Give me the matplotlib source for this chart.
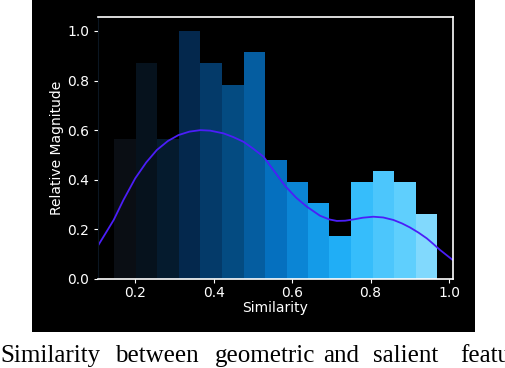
import numpy as np
import matplotlib
matplotlib.use("Agg")
from matplotlib import pyplot as plt
from matplotlib.patches import Rectangle

# histogram of similarity values (counts per bin, normalised by the max)
bin_edges = [0.147, 0.202, 0.256, 0.311, 0.366, 0.421, 0.476, 0.531,
             0.586, 0.640, 0.695, 0.750, 0.805, 0.860, 0.915, 0.970]
counts = [13, 20, 13, 23, 20, 18, 21, 11, 9, 7, 4, 9, 10, 9, 6]
bar_colors = ['#0a0e14', '#06121d', '#051b2e', '#04284d', '#043a69',
              '#044b81', '#055da0', '#0570bf', '#0b85d5', '#149be8',
              '#20aef6', '#36bdfb', '#4cc6fc', '#5fcffd', '#81d9fd']

# density curve
curve_x = [0.106, 0.125, 0.145, 0.17, 0.2, 0.228, 0.255, 0.283, 0.31, 0.338,
           0.366, 0.391, 0.425, 0.45, 0.476, 0.50, 0.527, 0.555, 0.582, 0.61,
           0.637, 0.671, 0.695, 0.714, 0.735, 0.756, 0.78, 0.807, 0.832, 0.858,
           0.88, 0.9, 0.922, 0.943, 0.96, 0.977, 0.993, 1.009]
curve_y = [0.137, 0.186, 0.238, 0.319, 0.406, 0.47, 0.52, 0.556, 0.58, 0.594,
           0.6, 0.598, 0.587, 0.572, 0.553, 0.526, 0.493, 0.433, 0.375, 0.328,
           0.292, 0.255, 0.24, 0.234, 0.235, 0.24, 0.247, 0.251, 0.248, 0.238,
           0.224, 0.208, 0.187, 0.164, 0.141, 0.117, 0.097, 0.077]

x_ticks = [0.2, 0.4, 0.6, 0.8, 1.0]
y_ticks = [0.0, 0.2, 0.4, 0.6, 0.8, 1.0]

caption_words = ['Similarity', 'between', 'geometric', 'and', 'salient', 'featu']
caption_x = [0, 115, 215, 323, 373, 460]

fig = plt.figure(figsize=(5.06, 3.68), dpi=100, facecolor='white')
bg = Rectangle((32 / 506, 1 - 332 / 368), 443 / 506, 332 / 368,
               transform=fig.transFigure, facecolor='black',
               edgecolor='none', zorder=-10)
fig.add_artist(bg)

ax = fig.add_axes([98 / 506, 1 - 279 / 368, 355 / 506, 262 / 368])
ax.set_zorder(5)
ax.set_facecolor('black')

rel = np.array(counts) / max(counts)
lefts = np.array(bin_edges[:-1])
widths = np.diff(bin_edges)
ax.bar(lefts, rel, width=widths, align='edge', color=bar_colors,
       edgecolor='none', linewidth=0)
ax.plot(curve_x, curve_y, color='#4b1ef8', lw=1.3)

ax.set_xlim(0.105, 1.01)
ax.set_ylim(0, 1.056)
ax.set_xticks(x_ticks)
ax.set_yticks(y_ticks)
ax.set_xticklabels([f'{t:.1f}' for t in x_ticks])
ax.set_yticklabels([f'{t:.1f}' for t in y_ticks])
ax.tick_params(colors='white', labelsize=10, length=3, width=0.8)
ax.tick_params(axis='x', pad=2)

for s in ['top', 'right', 'bottom']:
    ax.spines[s].set_color('white')
    ax.spines[s].set_linewidth(1.2)
ax.spines['left'].set_color('#0b1622')

ax.set_xlabel('Similarity', color='white', fontsize=10, labelpad=1)
ax.set_ylabel('Relative Magnitude', color='white', fontsize=10, labelpad=2)

for w, px in zip(caption_words, caption_x):
    fig.text(px / 506, 1 - 362 / 368, w, family='Liberation Serif',
             fontsize=18, color='black', ha='left', va='baseline')

fig.savefig('out.png', dpi=100, facecolor='white')
